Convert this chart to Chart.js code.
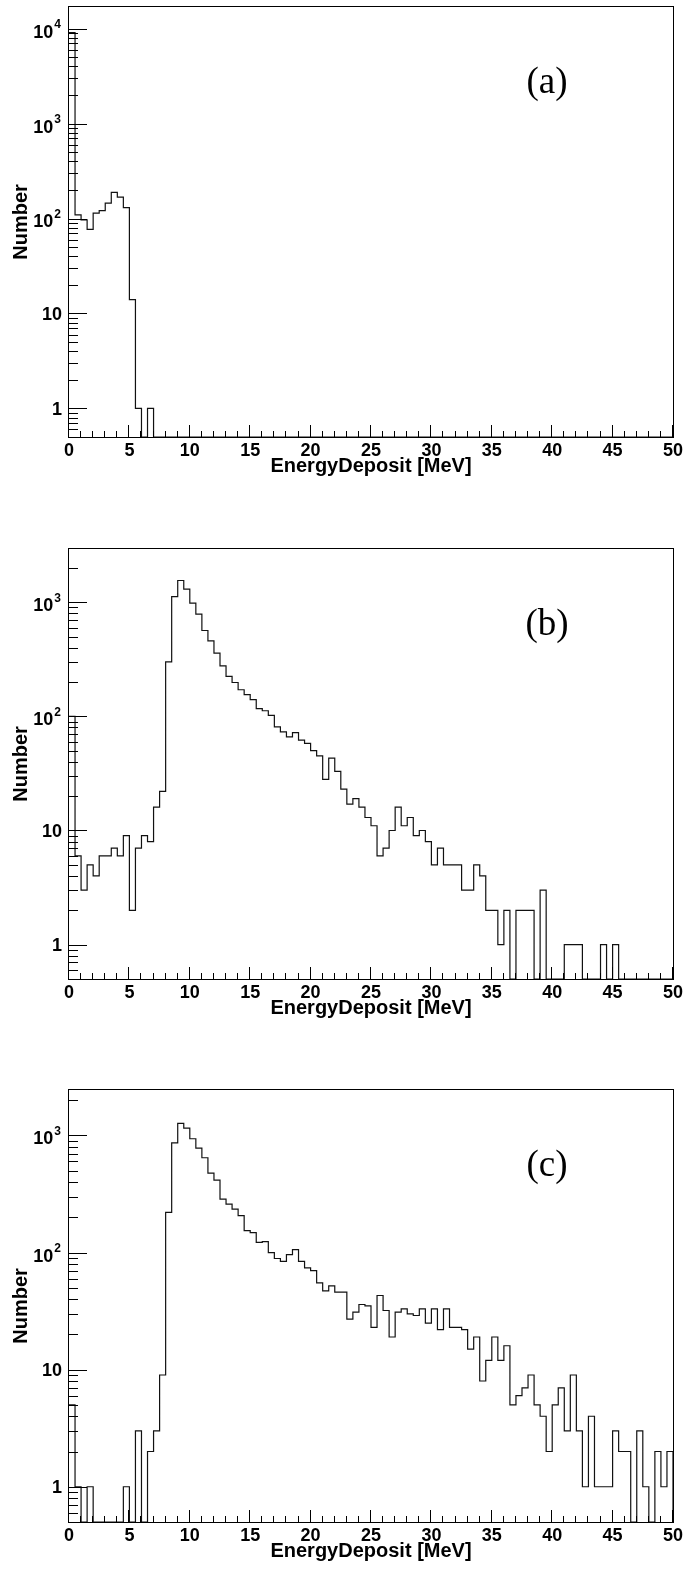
<!DOCTYPE html>
<html>
<head>
<meta charset="utf-8">
<title>EnergyDeposit</title>
<script src="https://cdn.jsdelivr.net/npm/chart.js@4.4.1/dist/chart.umd.min.js"></script>
<style>
	html, body { margin: 0; padding: 0; background: #fff; }
	body { width: 688px; height: 1570px; position: relative; overflow: hidden; }
	canvas { position: absolute; left: 0; }
</style>
</head>
<body>
<canvas id="padA" width="688" height="482" style="top:0px"></canvas>
<canvas id="padB" width="688" height="482" style="top:542px"></canvas>
<canvas id="padC" width="688" height="484" style="top:1083px"></canvas>
<script>
// binning: 100 bins of 0.5 MeV from 0 to 50 MeV
const binLow = 0;
const binWidth = 0.5;

// counts per bin, one array per histogram
const countsA = [
	9100, 109, 97, 77, 114, 121, 145, 189, 168, 130,
	14, 1, 0, 1, 0, 0, 0, 0, 0, 0,
	0, 0, 0, 0, 0, 0, 0, 0, 0, 0,
	0, 0, 0, 0, 0, 0, 0, 0, 0, 0,
	0, 0, 0, 0, 0, 0, 0, 0, 0, 0,
	0, 0, 0, 0, 0, 0, 0, 0, 0, 0,
	0, 0, 0, 0, 0, 0, 0, 0, 0, 0,
	0, 0, 0, 0, 0, 0, 0, 0, 0, 0,
	0, 0, 0, 0, 0, 0, 0, 0, 0, 0,
	0, 0, 0, 0, 0, 0, 0, 0, 0, 0,
];
const countsB = [
	100, 6, 3, 5, 4, 6, 6, 7, 6, 9,
	2, 7, 9, 8, 16, 22, 300, 1120, 1550, 1300,
	980, 785, 565, 459, 358, 277, 224, 198, 171, 155,
	140, 117, 112, 102, 81, 73, 66, 72, 62, 58,
	50, 45, 28, 43, 33, 23, 17, 19, 16, 13,
	11, 6, 7, 10, 16, 11, 13, 9, 10, 8,
	5, 7, 5, 5, 5, 3, 3, 5, 4, 2,
	2, 1, 2, 0, 2, 2, 2, 0, 3, 0,
	0, 0, 1, 1, 1, 0, 0, 0, 1, 0,
	1, 0, 0, 0, 0, 0, 0, 0, 0, 0,
];
const countsC = [
	5, 1, 0, 1, 0, 0, 0, 0, 0, 1,
	0, 3, 0, 2, 3, 9, 220, 866, 1267, 1157,
	937, 780, 645, 477, 416, 286, 259, 235, 207, 154,
	148, 122, 124, 100, 89, 84, 96, 106, 84, 74,
	70, 55, 47, 52, 46, 46, 27, 31, 36, 35,
	23, 43, 32, 19, 31, 33, 30, 29, 33, 25,
	33, 22, 33, 23, 23, 22, 15, 19, 8, 12,
	19, 12, 16, 5, 6, 7, 9, 5, 4, 2,
	5, 7, 3, 9, 3, 1, 4, 1, 1, 1,
	3, 2, 2, 0, 3, 1, 0, 2, 1, 2,
];

// y ranges of the three pads
const yMin = 0.5;
const yMaxA = 16900;
const yMaxB = 2925;
const yMaxC = 2445;

const xTicks = [0, 5, 10, 15, 20, 25, 30, 35, 40, 45, 50];
const decades = [1, 10, 100, 1000, 10000];
const decadeBase = ['1', '10', '10', '10', '10'];
const decadeExp = ['', '', '2', '3', '4'];
const panelTags = ['(a)', '(b)', '(c)'];

const sansFamily = '"Liberation Sans", Arial, sans-serif';
const labelFont = { family: sansFamily, size: 18, weight: 'bold' };
const titleFont = { family: sansFamily, size: 20, weight: 'bold' };

// step outline: every bin starts at its low edge, last point closes the final bin
function histPoints (counts, floor) {
	const pts = counts.map((c, i) => ({ x: binLow + i * binWidth, y: c > 0 ? c : floor }));
	pts.push({ x: binLow + counts.length * binWidth, y: floor });
	return pts;
}

// keep the plot frame exactly where layout.padding puts it
function noLabelPadding (s) {
	s.paddingTop = 0;
	s.paddingBottom = 0;
	s.paddingLeft = 0;
	s.paddingRight = 0;
}

// frame, inward ticks, decade labels and the pad tag
const rootFrame = {
	id: 'rootFrame',
	afterDatasetsDraw (chart, args, opts) {
		const { ctx, chartArea: a, scales: { x, y } } = chart;
		ctx.save();
		ctx.strokeStyle = '#000';
		ctx.lineWidth = 1;
		ctx.beginPath();
		for (let v = 0; v <= 50; v++) {
			const px = Math.round(x.getPixelForValue(v)) - 0.5;
			const len = v % 5 === 0 ? 12 : 6;
			ctx.moveTo(px, a.bottom);
			ctx.lineTo(px, a.bottom - len);
		}
		for (let e = -1; e <= 5; e++) {
			for (let k = 1; k <= 9; k++) {
				const v = k * Math.pow(10, e);
				if (v <= y.min || v > y.max) continue;
				const py = Math.round(y.getPixelForValue(v)) + 0.5;
				ctx.moveTo(a.left, py);
				ctx.lineTo(a.left + (k === 1 ? 18 : 9), py);
			}
		}
		ctx.stroke();
		ctx.strokeRect(a.left - 0.5, a.top - 0.5, a.right - a.left + 1, a.bottom - a.top + 1);

		// y labels: 1, 10, then 10 with a raised exponent
		ctx.fillStyle = '#000';
		ctx.textAlign = 'right';
		ctx.textBaseline = 'middle';
		decades.forEach((v, i) => {
			if (v > y.max) return;
			const py = y.getPixelForValue(v);
			const right = a.left - 7;
			if (decadeExp[i]) {
				ctx.font = 'bold 12px ' + sansFamily;
				ctx.fillText(decadeExp[i], right - 1, py - 3.5);
				const w = ctx.measureText(decadeExp[i]).width;
				ctx.font = 'bold 18px ' + sansFamily;
				ctx.fillText(decadeBase[i], right - 1 - w - 1, py + 4);
			} else {
				ctx.font = 'bold 18px ' + sansFamily;
				ctx.fillText(decadeBase[i], right, py + 1.5);
			}
		});

		ctx.font = '37px "Liberation Serif", "Times New Roman", serif';
		ctx.textAlign = 'center';
		ctx.fillText(opts.tag, 547, a.top + 76);
		ctx.restore();
	},
};

function makePad (id, counts, yMax, tag) {
	const ctx = document.getElementById(id).getContext('2d');
	return new Chart(ctx, {
		type: 'line',
		data: {
			datasets: [{
				data: histPoints(counts, yMin),
				stepped: 'before',
				borderColor: '#111',
				borderWidth: 1.2,
				pointRadius: 0,
				fill: false,
			}],
		},
		options: {
			responsive: false,
			animation: false,
			devicePixelRatio: 1,
			layout: { padding: { top: 7, right: 15, left: 0, bottom: 0 } },
			plugins: {
				legend: { display: false },
				tooltip: { enabled: false },
				rootFrame: { tag: tag },
			},
			scales: {
				x: {
					type: 'linear',
					min: 0,
					max: 50,
					afterFit (s) {
						s.height = 45;
						noLabelPadding(s);
					},
					afterBuildTicks (s) { s.ticks = xTicks.map(v => ({ value: v })); },
					grid: { display: false, drawTicks: false },
					border: { display: false },
					ticks: { color: '#000', font: labelFont, padding: 3, autoSkip: false, maxRotation: 0 },
					title: {
						display: true,
						text: 'EnergyDeposit [MeV]',
						color: '#000',
						font: titleFont,
						padding: { top: 0, bottom: 4 },
					},
				},
				y: {
					type: 'logarithmic',
					min: yMin,
					max: yMax,
					afterFit (s) {
						s.width = 69;
						noLabelPadding(s);
					},
					afterBuildTicks (s) {
						s.ticks = decades.filter(v => v <= yMax).map(v => ({ value: v, major: true }));
					},
					grid: { display: false, drawTicks: false },
					border: { display: false },
					ticks: { display: false },
					title: {
						display: true,
						text: 'Number',
						color: '#000',
						font: titleFont,
						padding: { top: 9, bottom: 0 },
					},
				},
			},
		},
		plugins: [rootFrame],
	});
}

makePad('padA', countsA, yMaxA, panelTags[0]);
makePad('padB', countsB, yMaxB, panelTags[1]);
makePad('padC', countsC, yMaxC, panelTags[2]);
</script>
</body>
</html>
